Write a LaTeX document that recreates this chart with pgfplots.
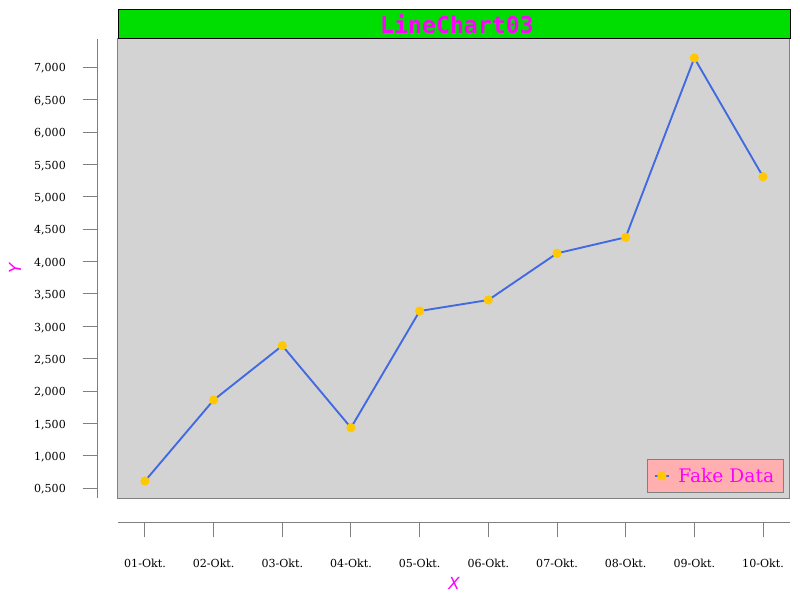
\documentclass[border=0pt]{standalone}
\usepackage{pgfplots}
\pgfplotsset{compat=1.18}
\usepackage{fontspec}
\setmainfont{DejaVu Serif}
\newfontfamily\titlefont{DejaVu Sans Mono}
\newfontfamily\labelfont{DejaVu Sans}

\definecolor{plotbg}{HTML}{D3D3D3}
\definecolor{titlegreen}{HTML}{00DD00}
\definecolor{linecol}{HTML}{4169E1}
\definecolor{markcol}{HTML}{FFC800}
\definecolor{legbg}{HTML}{FFAFAF}
\definecolor{axgray}{HTML}{808080}
\definecolor{txtmag}{HTML}{FF00FF}

\begin{document}
\begin{tikzpicture}
% page = 800x600 px, 1px = 0.75pt, axis box at (0,0)
\useasboundingbox (-88.5pt,-76.5pt) rectangle (511.5pt,373.5pt);
\begin{axis}[
    name=ax,
    scale only axis,
    width=504pt, height=344.25pt,
    xmin=-0.393, xmax=9.393,
    ymin=350, ymax=7437,
    axis lines*=left,
    axis x line shift=18pt,
    axis y line shift=15pt,
    axis line style={draw=axgray, line width=0.75pt, -},
    axis background/.style={fill=plotbg, draw=axgray, line width=0.75pt},
    tick align=outside,
    major tick length=11.6pt,
    tick style={draw=axgray, line width=0.75pt},
    xtick={0,...,9},
    xticklabels={01-Okt.,02-Okt.,03-Okt.,04-Okt.,05-Okt.,06-Okt.,07-Okt.,08-Okt.,09-Okt.,10-Okt.},
    ytick={500,1000,...,7000},
    yticklabels={{0,500},{1,000},{1,500},{2,000},{2,500},{3,000},{3,500},{4,000},{4,500},{5,000},{5,500},{6,000},{6,500},{7,000}},
    ticklabel style={font=\fontsize{8.3}{9}\selectfont, text=black},
    xticklabel style={yshift=-12.75pt},
    yticklabel style={xshift=-9pt, yshift=-1pt},
    xlabel={X},
    ylabel={Y},
    label style={font=\labelfont\itshape\fontsize{12.5}{13}\selectfont, text=txtmag},
    xlabel style={at={(axis description cs:0.5,0)}, anchor=center, yshift=-63.75pt},
    ylabel style={at={(axis description cs:0,0.5)}, anchor=center, yshift=77.25pt},
    legend style={at={(axis description cs:1,0)}, anchor=south east,
        xshift=-4.5pt, yshift=3.75pt, fill=legbg, draw=axgray, line width=0.75pt,
        font=\fontsize{14}{16}\selectfont, text=txtmag,
        inner xsep=5pt, inner ysep=4.3pt,
        /tikz/every odd column/.append style={column sep=4.5pt}},
    legend image code/.code={%
        \draw[mark repeat=2,mark phase=2,#1] plot coordinates {(0cm,0cm) (0.18cm,0cm) (0.36cm,0cm)};},
    clip=false,
]
\addplot[linecol, line width=1.4pt, mark=*, mark size=2.7pt,
    mark options={fill=markcol, draw=markcol}] coordinates {
    (0,612) (1,1863) (2,2702) (3,1435) (4,3237)
    (5,3407) (6,4128) (7,4375) (8,7144) (9,5311)
};
\addlegendentry{Fake Data}
\end{axis}
\node[fill=titlegreen, draw=black, line width=0.75pt, anchor=south west,
      minimum width=504pt, minimum height=21.75pt, inner sep=0pt,
      font=\titlefont\bfseries\fontsize{17.4}{17.4}\selectfont, text=txtmag]
      at (ax.north west) {\hspace*{3.75pt}LineChart03};
\end{tikzpicture}
\end{document}
